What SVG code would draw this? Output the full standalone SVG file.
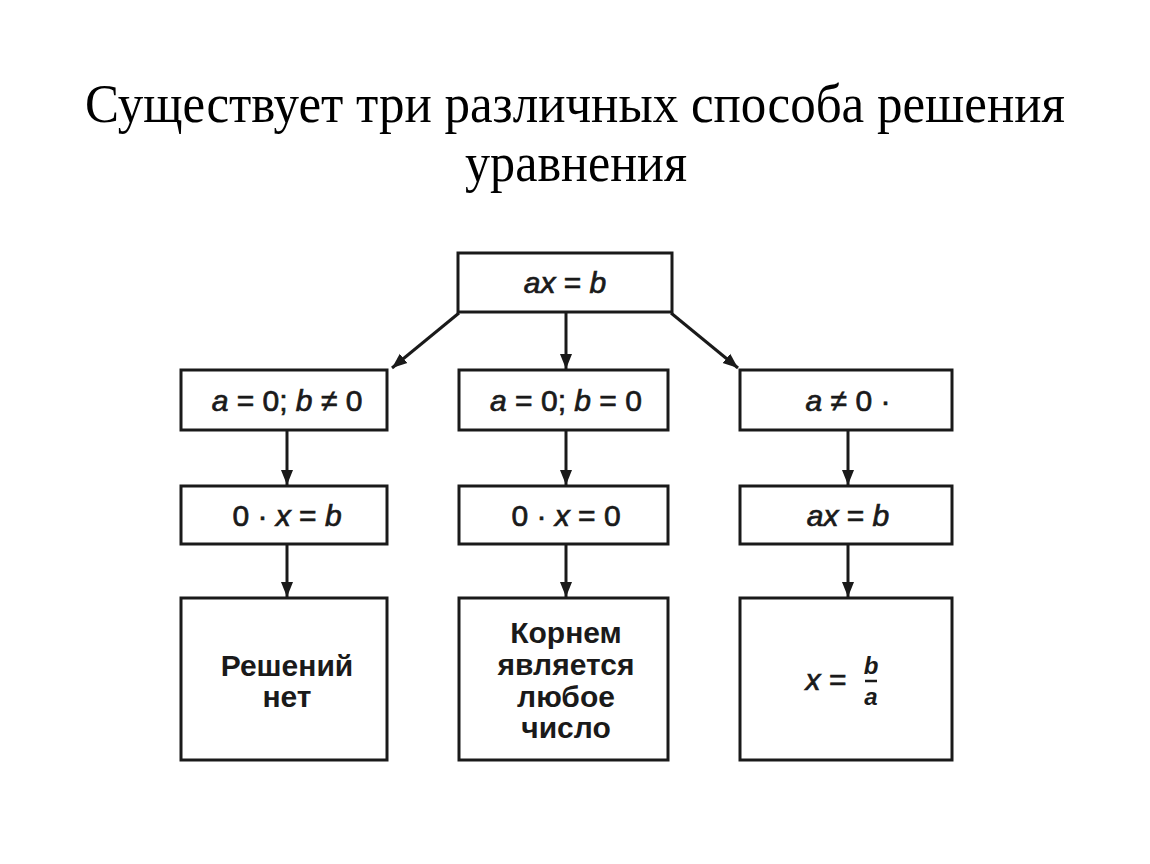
<svg xmlns="http://www.w3.org/2000/svg" width="1150" height="864" viewBox="0 0 1150 864">
<defs>
<style>
.box{fill:#fff;stroke:#1a1a1a;stroke-width:3}
.t{font-family:"Liberation Sans",Arial,sans-serif;font-size:30px;fill:#1a1a1a;stroke:#1a1a1a;stroke-width:0.7;text-anchor:middle}
.b{font-weight:bold;stroke-width:0}
.i{font-style:italic}
.title{font-family:"Liberation Serif","Times New Roman",serif;font-size:54px;fill:#000;text-anchor:middle}
.c{stroke:#1a1a1a;stroke-width:3;fill:none;marker-end:url(#ah)}
</style>
<marker id="ah" viewBox="0 0 10 10" refX="10" refY="5" markerWidth="5" markerHeight="5" orient="auto" markerUnits="strokeWidth">
<path d="M0,1 L10,5 L0,9 z" fill="#1a1a1a"/>
</marker>
</defs>
<rect width="1150" height="864" fill="#fff"/>
<g id="title">
<text class="title" x="575" y="122" textLength="980" lengthAdjust="spacingAndGlyphs">Существует три различных способа решения</text>
<text class="title" x="576" y="181" textLength="222" lengthAdjust="spacingAndGlyphs">уравнения</text>
</g>
<g id="connectors">
<path class="c" d="M459,313 L392,368"/>
<path class="c" d="M566,313 L566,369"/>
<path class="c" d="M671,313 L738,368"/>
<path class="c" d="M287,431 L287,485"/>
<path class="c" d="M566,431 L566,485"/>
<path class="c" d="M848,431 L848,485"/>
<path class="c" d="M287,545 L287,597"/>
<path class="c" d="M566,545 L566,597"/>
<path class="c" d="M848,545 L848,597"/>
</g>
<g id="n-top">
<rect class="box" x="458" y="253" width="214" height="59"/>
<text class="t" x="565" y="293"><tspan class="i">ax</tspan> = <tspan class="i">b</tspan></text>
</g>
<g id="n-l1">
<rect class="box" x="181" y="370" width="206" height="60"/>
<text class="t" x="287" y="411"><tspan class="i">a</tspan> = 0; <tspan class="i">b</tspan> ≠ 0</text>
</g>
<g id="n-m1">
<rect class="box" x="459" y="370" width="209" height="60"/>
<text class="t" x="566" y="411"><tspan class="i">a</tspan> = 0; <tspan class="i">b</tspan> = 0</text>
</g>
<g id="n-r1">
<rect class="box" x="740" y="370" width="212" height="60"/>
<text class="t" x="848" y="411"><tspan class="i">a</tspan> ≠ 0 ·</text>
</g>
<g id="n-l2">
<rect class="box" x="181" y="486" width="206" height="58"/>
<text class="t" x="287" y="526">0 · <tspan class="i">x</tspan> = <tspan class="i">b</tspan></text>
</g>
<g id="n-m2">
<rect class="box" x="459" y="486" width="209" height="58"/>
<text class="t" x="566" y="526">0 · <tspan class="i">x</tspan> = 0</text>
</g>
<g id="n-r2">
<rect class="box" x="740" y="486" width="212" height="58"/>
<text class="t" x="848" y="526"><tspan class="i">ax</tspan> = <tspan class="i">b</tspan></text>
</g>
<g id="n-l3">
<rect class="box" x="181" y="598" width="206" height="162"/>
<text class="t b" x="287" y="676">Решений</text>
<text class="t b" x="287" y="707">нет</text>
</g>
<g id="n-m3">
<rect class="box" x="459" y="598" width="209" height="162"/>
<text class="t b" x="566" y="643">Корнем</text>
<text class="t b" x="566" y="675">является</text>
<text class="t b" x="566" y="707">любое</text>
<text class="t b" x="566" y="738">число</text>
</g>
<g id="n-r3">
<rect class="box" x="740" y="598" width="212" height="162"/>
<text class="t" x="826" y="690"><tspan class="i">x</tspan> =</text>
<text class="t i b" x="871" y="674" style="font-size:24px">b</text>
<line x1="865" y1="681" x2="877" y2="681" stroke="#1a1a1a" stroke-width="2.5"/>
<text class="t i b" x="871" y="705" style="font-size:24px">a</text>
</g>
</svg>
